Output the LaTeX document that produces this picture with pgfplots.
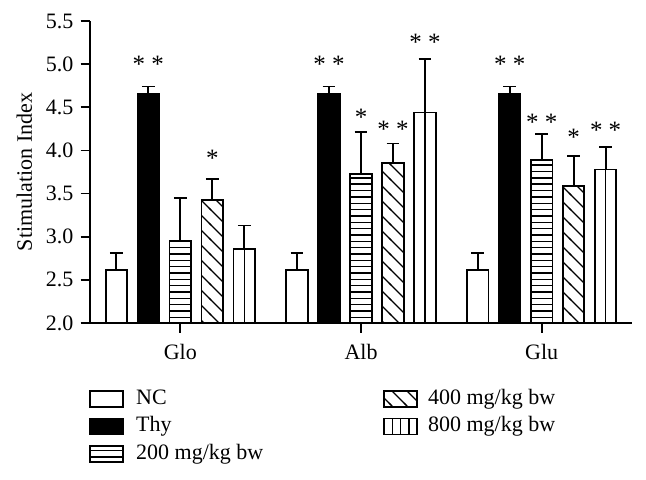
\documentclass[border=0pt]{standalone}
\usepackage{fontspec}
\setmainfont{Liberation Serif}
\usepackage{pgfplots}
\usepackage{pgfplotstable}
\pgfplotsset{compat=1.18}
\usetikzlibrary{patterns}

% hatchings
\pgfdeclarepatternformonly{hstripes}{\pgfqpoint{-1pt}{-1pt}}{\pgfqpoint{5pt}{4.2pt}}{\pgfqpoint{4pt}{3.17pt}}{%
  \pgfsetlinewidth{0.7pt}%
  \pgfpathmoveto{\pgfqpoint{-1pt}{1.585pt}}%
  \pgfpathlineto{\pgfqpoint{5pt}{1.585pt}}%
  \pgfusepath{stroke}}
\pgfdeclarepatternformonly{dstripes}{\pgfqpoint{-1pt}{-1pt}}{\pgfqpoint{8.5pt}{8.5pt}}{\pgfqpoint{7.5pt}{7.5pt}}{%
  \pgfsetlinewidth{0.7pt}%
  \pgfpathmoveto{\pgfqpoint{-0.5pt}{8pt}}%
  \pgfpathlineto{\pgfqpoint{8pt}{-0.5pt}}%
  \pgfusepath{stroke}}

% stimulation index, mean and upper error
\pgfplotstableread{
grp nc   ncE  thy  thyE d200 d200E d400 d400E d800 d800E
0   2.61 0.20 4.65 0.09 2.95 0.50  3.43 0.24  2.86 0.27
1   2.61 0.20 4.65 0.09 3.73 0.48  3.85 0.23  4.44 0.62
2   2.61 0.20 4.65 0.09 3.89 0.30  3.59 0.35  3.78 0.26
}\sidata

\pgfplotsset{
  sibar/.style={ybar, bar width=0.119, bar shift=0pt, draw=black, line width=0.9pt, forget plot,
    error bars/y dir=plus, error bars/y explicit,
    error bars/error bar style={line width=0.9pt, black},
    error bars/error mark options={rotate=90, mark size=3.2pt, line width=0.9pt, black}},
  stars/.style={draw=none, mark=none, forget plot, nodes near coords, point meta=explicit symbolic,
    every node near coord/.style={anchor=base, yshift=-6.1pt, inner sep=0pt, black,
      font=\fontsize{12.5}{14}\selectfont}},
  legbox/.style={legend image code/.code={\draw[line width=0.9pt, ##1] (0pt,-4pt) rectangle (16.5pt,4pt);}},
}

\begin{document}
\begin{tikzpicture}
\begin{axis}[
  scale only axis, width=271pt, height=151pt,
  xmin=-0.5, xmax=2.5, ymin=2, ymax=5.5,
  axis x line*=bottom, axis y line*=left,
  axis line style={line width=0.9pt},
  tick align=outside, major tick length=4.75pt,
  tick style={line width=0.9pt, black},
  xtick={0,1,2}, xticklabels={Glo,Alb,Glu},
  xticklabel shift=2.5pt,
  ytick={2,2.5,3,3.5,4,4.5,5,5.5},
  yticklabel style={/pgf/number format/.cd, fixed, fixed zerofill, precision=1},
  /pgf/number format/assume math mode=true,
  font=\fontsize{11}{13}\selectfont,
  ylabel={Stimulation Index},
  ylabel style={at={(axis description cs:-0.094,0.5)}, anchor=south},
  legend columns=2,
  legend cell align=left,
  legend style={draw=none, fill=none, inner sep=0pt,
    at={(axis description cs:0,0)}, anchor=north west, xshift=-0.5pt, yshift=-33pt,
    row sep=4.25pt, column sep=6pt,
    /tikz/every even column/.append style={column sep=60pt},
    /tikz/column 3/.append style={column sep=5pt},
    nodes={inner sep=0pt, text height=7.5pt, text depth=2pt}},
]
\addplot[sibar, fill=white] table[x expr=\thisrow{grp}-0.354, y=nc, y error=ncE] {\sidata};
\addplot[sibar, fill=black] table[x expr=\thisrow{grp}-0.177, y=thy, y error=thyE] {\sidata};
\addplot[sibar, fill=white, postaction={pattern=hstripes}] table[x expr=\thisrow{grp}, y=d200, y error=d200E] {\sidata};
\addplot[sibar, fill=white, postaction={pattern=dstripes}] table[x expr=\thisrow{grp}+0.177, y=d400, y error=d400E] {\sidata};
\addplot[sibar, fill=white] table[x expr=\thisrow{grp}+0.354, y=d800, y error=d800E] {\sidata};
% centre line of the 800 mg/kg bars
\addplot[ycomb, mark=none, black, line width=0.7pt, forget plot] table[x expr=\thisrow{grp}+0.354, y=d800] {\sidata};

\addplot[stars] coordinates {
  (-0.177,5.05) [* *] (0.177,3.95) [*]
  (0.823,5.05) [* *] (1,4.43) [*] (1.177,4.29) [* *] (1.354,5.30) [* *]
  (1.823,5.04) [* *] (2,4.37) [* *] (2.177,4.20) [*] (2.354,4.28) [* *]
};

\addlegendimage{legbox, fill=white}
\addlegendentry{NC}
\addlegendimage{legbox, fill=white, postaction={pattern=dstripes}}
\addlegendentry{400 mg/kg bw}
\addlegendimage{legbox, fill=black}
\addlegendentry{Thy}
\addlegendimage{legend image code/.code={
  \draw[line width=0.9pt, fill=white] (0pt,-4pt) rectangle (16.5pt,4pt);
  \draw[line width=0.7pt] (4.125pt,-4pt) -- (4.125pt,4pt) (8.25pt,-4pt) -- (8.25pt,4pt) (12.375pt,-4pt) -- (12.375pt,4pt);}}
\addlegendentry{800 mg/kg bw}
\addlegendimage{legbox, fill=white, postaction={pattern=hstripes}}
\addlegendentry{200 mg/kg bw}
\end{axis}
\pgfresetboundingbox
\path[use as bounding box] (-45pt,-78pt) rectangle (278pt,161.5pt);
\end{tikzpicture}
\end{document}
